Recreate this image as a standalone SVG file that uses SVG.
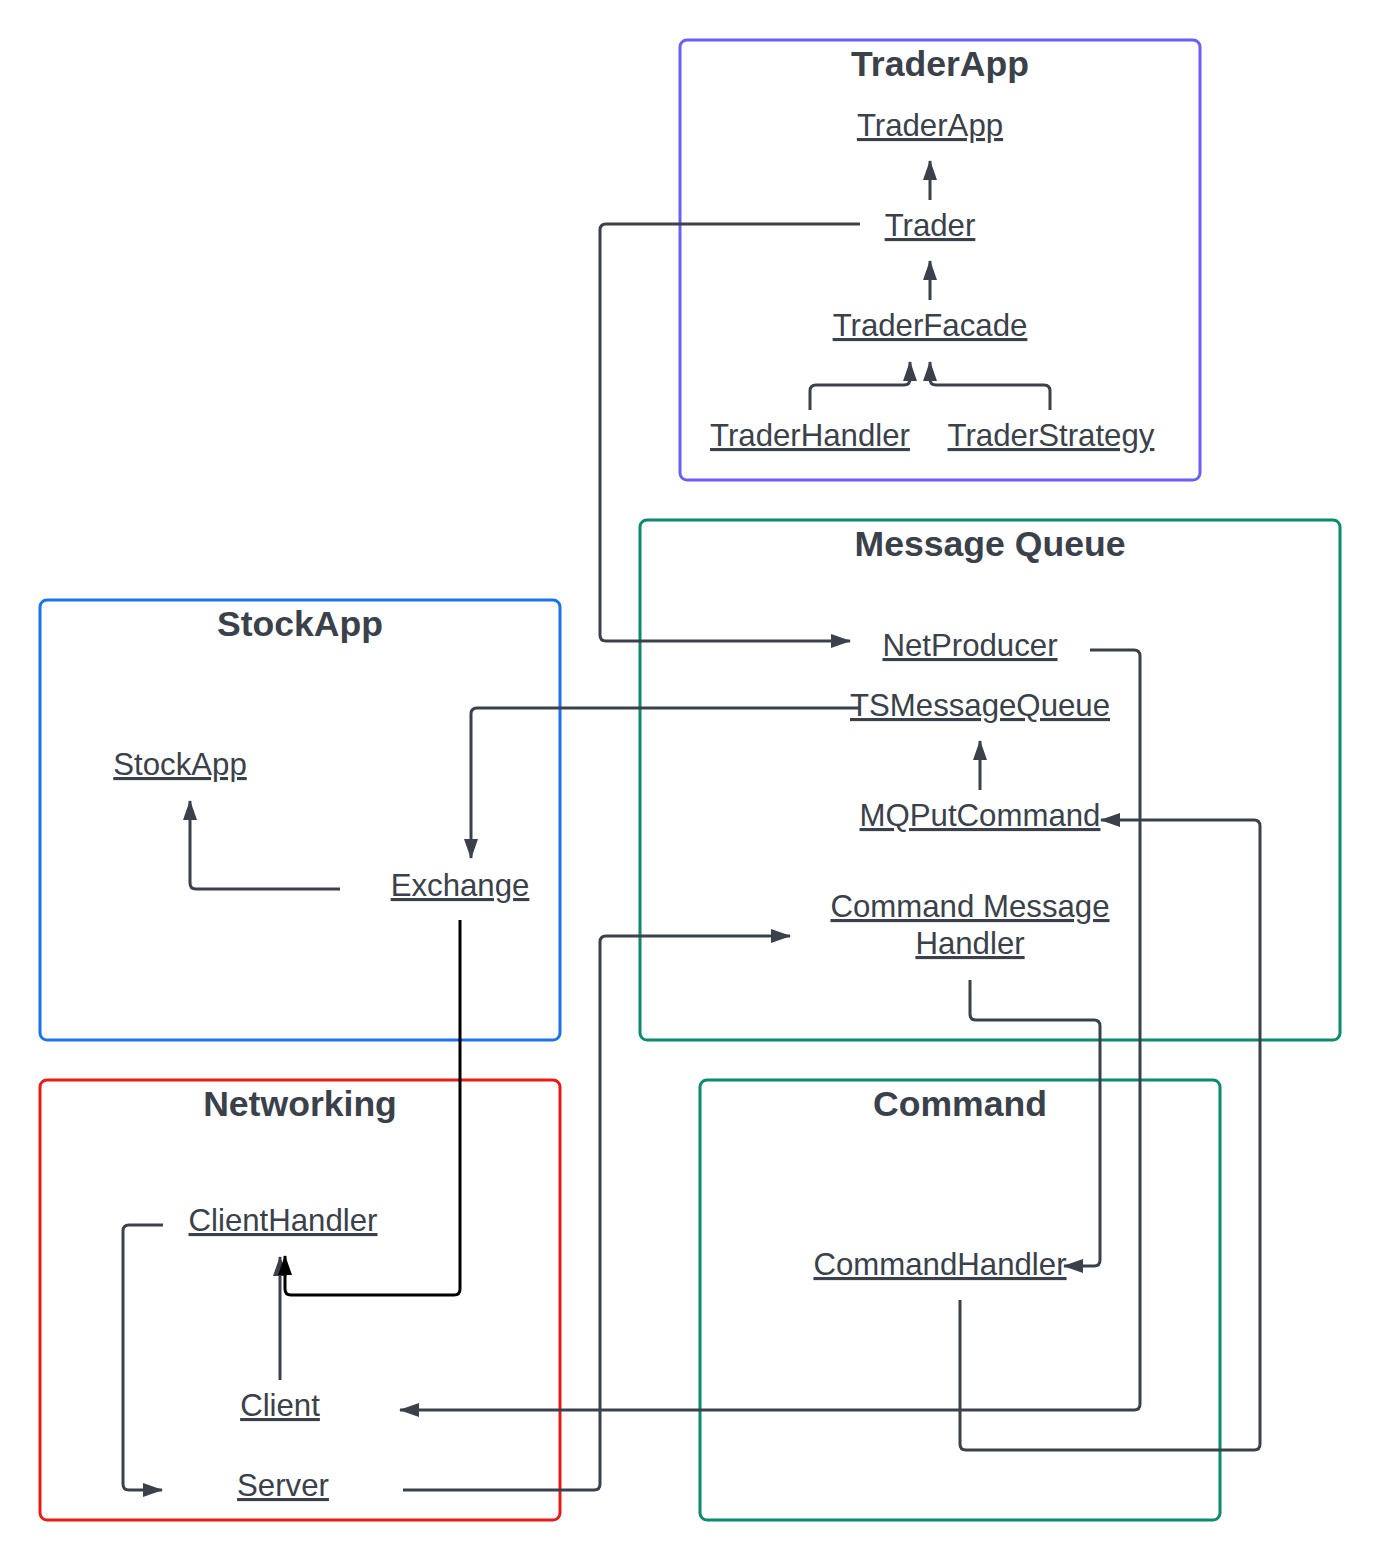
<svg xmlns="http://www.w3.org/2000/svg" width="1380" height="1560" viewBox="0 0 1380 1560">
<defs>
<style>
.box{fill:none;stroke-width:3}
.title{font-family:"Liberation Sans",Arial,sans-serif;font-weight:bold;font-size:35.6px;fill:#3a414a;text-anchor:middle}
.lbl{font-family:"Liberation Sans",Arial,sans-serif;font-size:31.2px;fill:#3a414a;text-anchor:middle;text-decoration:underline}
.c{fill:none;stroke:#3a414a;stroke-width:3;stroke-linejoin:round}
.k{fill:none;stroke:#000;stroke-width:3;stroke-linejoin:round}
</style>
<marker id="ah" viewBox="0 0 20 14" refX="19" refY="7" markerWidth="21" markerHeight="14" markerUnits="userSpaceOnUse" orient="auto"><path d="M0,0 L20,7 L0,14 Z" fill="#3a414a"/></marker>
<marker id="ahk" viewBox="0 0 20 14" refX="19" refY="7" markerWidth="21" markerHeight="14" markerUnits="userSpaceOnUse" orient="auto"><path d="M0,0 L20,7 L0,14 Z" fill="#000"/></marker>
</defs>
<rect width="1380" height="1560" fill="#fff"/>
<g id="containers">
<g id="traderapp-box"><rect class="box" x="680" y="40" width="520" height="440" rx="7" stroke="#6a61f4"/><text class="title" x="940" y="76">TraderApp</text></g>
<g id="mq-box"><rect class="box" x="640" y="520" width="700" height="520" rx="7" stroke="#0b8a6e"/><text class="title" x="990" y="556">Message Queue</text></g>
<g id="stockapp-box"><rect class="box" x="40" y="600" width="520" height="440" rx="7" stroke="#1a73e8"/><text class="title" x="300" y="636">StockApp</text></g>
<g id="networking-box"><rect class="box" x="40" y="1080" width="520" height="440" rx="7" stroke="#e81b1b"/><text class="title" x="300" y="1116">Networking</text></g>
<g id="command-box"><rect class="box" x="700" y="1080" width="520" height="440" rx="7" stroke="#0b8a6e"/><text class="title" x="960" y="1116">Command</text></g>
</g>
<g id="connectors">
<path class="c" d="M930,200 V161" marker-end="url(#ah)"/>
<path class="c" d="M930,300 V261" marker-end="url(#ah)"/>
<path class="c" d="M810,410 V391 Q810,385 816,385 H904 Q910,385 910,379 V362" marker-end="url(#ah)"/>
<path class="c" d="M1050,410 V391 Q1050,385 1044,385 H936 Q930,385 930,379 V362" marker-end="url(#ah)"/>
<path class="c" d="M860,224 H606 Q600,224 600,230 V635 Q600,641 606,641 H850" marker-end="url(#ah)"/>
<path class="c" d="M1090,650 H1134 Q1140,650 1140,656 V1404 Q1140,1410 1134,1410 H400" marker-end="url(#ah)"/>
<path class="c" d="M860,708 H477 Q471,708 471,714 V858" marker-end="url(#ah)"/>
<path class="c" d="M980,790 V741" marker-end="url(#ah)"/>
<path class="c" d="M960,1300 V1444 Q960,1450 966,1450 H1254 Q1260,1450 1260,1444 V826 Q1260,820 1254,820 H1101" marker-end="url(#ah)"/>
<path class="c" d="M403,1490 H594 Q600,1490 600,1484 V942 Q600,936 606,936 H790" marker-end="url(#ah)"/>
<path class="c" d="M970,980 V1014 Q970,1020 976,1020 H1094 Q1100,1020 1100,1026 V1260 Q1100,1266 1094,1266 H1064" marker-end="url(#ah)"/>
<path class="c" d="M340,889 H196 Q190,889 190,883 V801" marker-end="url(#ah)"/>
<path class="c" d="M280,1380 V1257" marker-end="url(#ah)"/>
<path class="k" d="M460,920 V1289 Q460,1295 454,1295 H291 Q285,1295 285,1289 V1256" marker-end="url(#ahk)"/>
<path class="c" d="M163,1225 H129 Q123,1225 123,1231 V1484 Q123,1490 129,1490 H162" marker-end="url(#ah)"/>
</g>
<g id="n-traderapp"><text class="lbl" x="930" y="136">TraderApp</text></g>
<g id="n-trader"><text class="lbl" x="930" y="236">Trader</text></g>
<g id="n-traderfacade"><text class="lbl" x="930" y="336">TraderFacade</text></g>
<g id="n-traderhandler"><text class="lbl" x="810" y="446">TraderHandler</text></g>
<g id="n-traderstrategy"><text class="lbl" x="1051" y="446">TraderStrategy</text></g>
<g id="n-netproducer"><text class="lbl" x="970" y="656">NetProducer</text></g>
<g id="n-tsmessagequeue"><text class="lbl" x="980" y="716">TSMessageQueue</text></g>
<g id="n-mqputcommand"><text class="lbl" x="980" y="826">MQPutCommand</text></g>
<g id="n-cmh"><text class="lbl" x="970" y="917">Command Message</text><text class="lbl" x="970" y="954">Handler</text></g>
<g id="n-commandhandler"><text class="lbl" x="940" y="1275">CommandHandler</text></g>
<g id="n-stockapp"><text class="lbl" x="180" y="775">StockApp</text></g>
<g id="n-exchange"><text class="lbl" x="460" y="896">Exchange</text></g>
<g id="n-clienthandler"><text class="lbl" x="283" y="1231">ClientHandler</text></g>
<g id="n-client"><text class="lbl" x="280" y="1416">Client</text></g>
<g id="n-server"><text class="lbl" x="283" y="1496">Server</text></g>
</svg>
